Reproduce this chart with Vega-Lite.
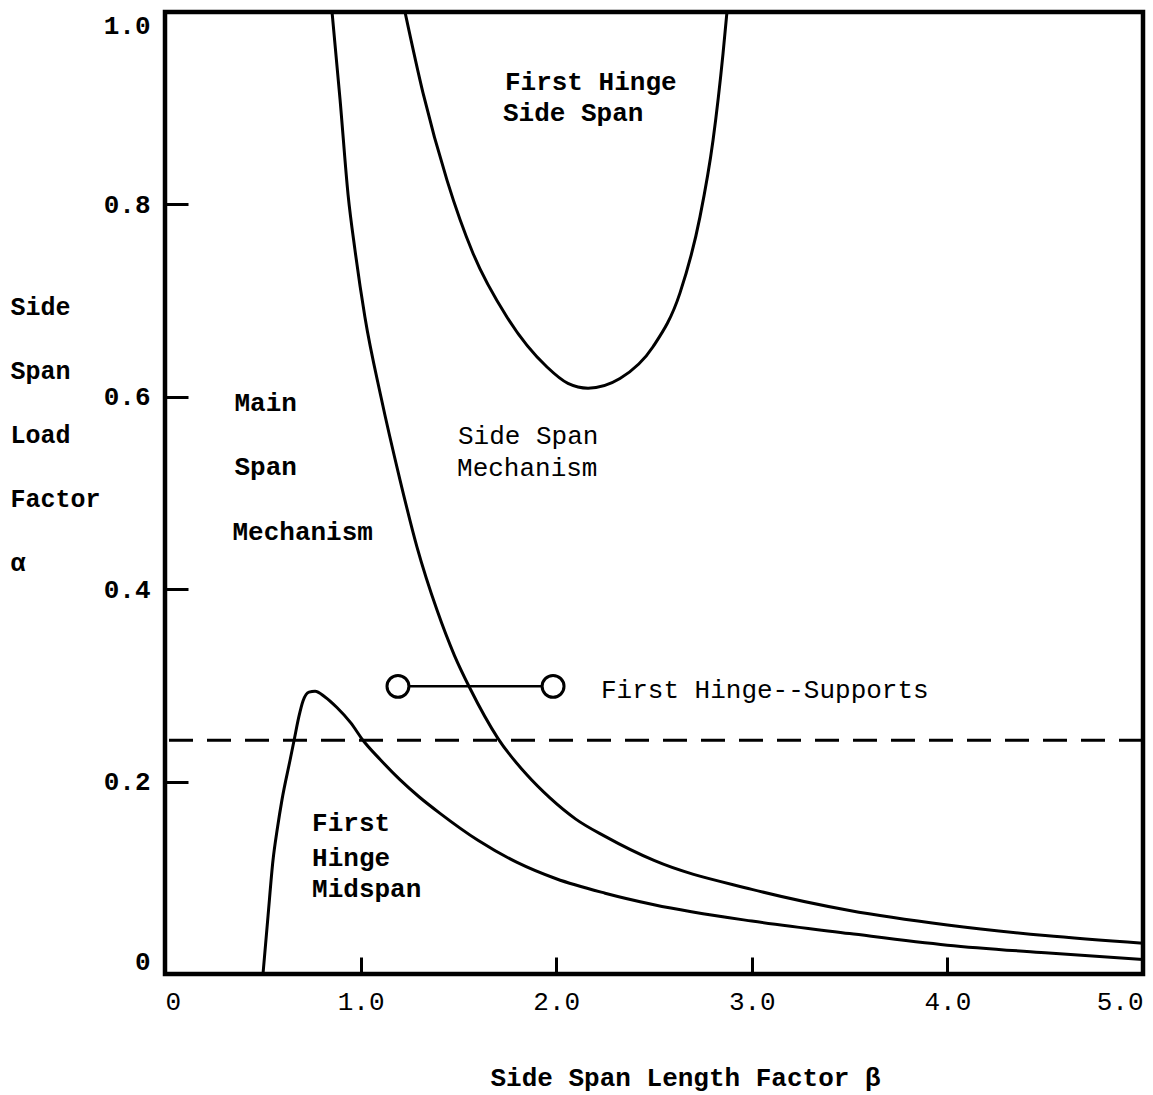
{
  "$schema": "https://vega.github.io/schema/vega-lite/v6.json",
  "width": 978,
  "height": 962,
  "autosize": {"type": "none"},
  "padding": {"left": 165, "top": 12, "right": 10, "bottom": 121},
  "background": "white",
  "config": {
    "view": {"stroke": "black", "strokeWidth": 4.5},
    "font": "Liberation Mono"
  },
  "layer": [
    {
      "data": {
        "values": [
          {"curve": "midspan", "beta": 0.501, "alpha": 0.0},
          {"curve": "midspan", "beta": 0.527, "alpha": 0.061},
          {"curve": "midspan", "beta": 0.552, "alpha": 0.118},
          {"curve": "midspan", "beta": 0.575, "alpha": 0.152},
          {"curve": "midspan", "beta": 0.598, "alpha": 0.181},
          {"curve": "midspan", "beta": 0.639, "alpha": 0.222},
          {"curve": "midspan", "beta": 0.660, "alpha": 0.243},
          {"curve": "midspan", "beta": 0.685, "alpha": 0.268},
          {"curve": "midspan", "beta": 0.706, "alpha": 0.284},
          {"curve": "midspan", "beta": 0.736, "alpha": 0.293},
          {"curve": "midspan", "beta": 0.767, "alpha": 0.294},
          {"curve": "midspan", "beta": 0.818, "alpha": 0.288},
          {"curve": "midspan", "beta": 0.879, "alpha": 0.277},
          {"curve": "midspan", "beta": 0.950, "alpha": 0.261},
          {"curve": "midspan", "beta": 1.012, "alpha": 0.243},
          {"curve": "midspan", "beta": 1.100, "alpha": 0.223},
          {"curve": "midspan", "beta": 1.201, "alpha": 0.202},
          {"curve": "midspan", "beta": 1.300, "alpha": 0.184},
          {"curve": "midspan", "beta": 1.406, "alpha": 0.167},
          {"curve": "midspan", "beta": 1.600, "alpha": 0.139},
          {"curve": "midspan", "beta": 1.800, "alpha": 0.116},
          {"curve": "midspan", "beta": 2.000, "alpha": 0.099},
          {"curve": "midspan", "beta": 2.250, "alpha": 0.084},
          {"curve": "midspan", "beta": 2.500, "alpha": 0.072},
          {"curve": "midspan", "beta": 3.000, "alpha": 0.055},
          {"curve": "midspan", "beta": 3.500, "alpha": 0.042},
          {"curve": "midspan", "beta": 4.000, "alpha": 0.030},
          {"curve": "midspan", "beta": 4.500, "alpha": 0.022},
          {"curve": "midspan", "beta": 5.000, "alpha": 0.015},
          {"curve": "mainside", "beta": 0.854, "alpha": 1.0},
          {"curve": "mainside", "beta": 0.895, "alpha": 0.909},
          {"curve": "mainside", "beta": 0.936, "alpha": 0.810},
          {"curve": "mainside", "beta": 0.971, "alpha": 0.753},
          {"curve": "mainside", "beta": 1.022, "alpha": 0.683},
          {"curve": "mainside", "beta": 1.104, "alpha": 0.600},
          {"curve": "mainside", "beta": 1.201, "alpha": 0.514},
          {"curve": "mainside", "beta": 1.288, "alpha": 0.444},
          {"curve": "mainside", "beta": 1.391, "alpha": 0.378},
          {"curve": "mainside", "beta": 1.480, "alpha": 0.331},
          {"curve": "mainside", "beta": 1.559, "alpha": 0.297},
          {"curve": "mainside", "beta": 1.702, "alpha": 0.245},
          {"curve": "mainside", "beta": 1.850, "alpha": 0.207},
          {"curve": "mainside", "beta": 1.968, "alpha": 0.183},
          {"curve": "mainside", "beta": 2.100, "alpha": 0.161},
          {"curve": "mainside", "beta": 2.250, "alpha": 0.143},
          {"curve": "mainside", "beta": 2.500, "alpha": 0.118},
          {"curve": "mainside", "beta": 3.000, "alpha": 0.088},
          {"curve": "mainside", "beta": 3.500, "alpha": 0.066},
          {"curve": "mainside", "beta": 4.000, "alpha": 0.051},
          {"curve": "mainside", "beta": 4.500, "alpha": 0.040},
          {"curve": "mainside", "beta": 5.000, "alpha": 0.032},
          {"curve": "sidehinge", "beta": 1.227, "alpha": 1.0},
          {"curve": "sidehinge", "beta": 1.319, "alpha": 0.916},
          {"curve": "sidehinge", "beta": 1.442, "alpha": 0.825},
          {"curve": "sidehinge", "beta": 1.575, "alpha": 0.749},
          {"curve": "sidehinge", "beta": 1.748, "alpha": 0.683},
          {"curve": "sidehinge", "beta": 1.953, "alpha": 0.631},
          {"curve": "sidehinge", "beta": 2.060, "alpha": 0.614},
          {"curve": "sidehinge", "beta": 2.163, "alpha": 0.609},
          {"curve": "sidehinge", "beta": 2.326, "alpha": 0.619},
          {"curve": "sidehinge", "beta": 2.495, "alpha": 0.652},
          {"curve": "sidehinge", "beta": 2.633, "alpha": 0.708},
          {"curve": "sidehinge", "beta": 2.735, "alpha": 0.787},
          {"curve": "sidehinge", "beta": 2.802, "alpha": 0.867},
          {"curve": "sidehinge", "beta": 2.853, "alpha": 0.957},
          {"curve": "sidehinge", "beta": 2.873, "alpha": 1.0}
        ]
      },
      "mark": {"type": "line", "color": "black", "strokeWidth": 3, "clip": true, "interpolate": "monotone"},
      "encoding": {
        "x": {
          "field": "beta",
          "type": "quantitative",
          "scale": {"domain": [0, 5], "nice": false, "zero": false},
          "axis": {
            "title": "Side Span Length Factor β",
            "values": [0, 1, 2, 3, 4, 5],
            "labelExpr": "datum.value == 0 ? '0' : format(datum.value, '.1f')",
            "domain": false,
            "grid": false,
            "ticks": true,
            "tickSize": -17,
            "tickWidth": 3,
            "tickColor": "black",
            "labelFlush": true,
            "labelFont": "Liberation Mono",
            "labelFontSize": 26,
            "labelFontWeight": "normal",
            "labelColor": "black",
            "labelPadding": 31,
            "titleFont": "Liberation Mono",
            "titleFontSize": 26,
            "titleFontWeight": "bold",
            "titleColor": "black",
            "titleAnchor": "start",
            "titleAlign": "left",
            "titleBaseline": "middle",
            "titleX": 325,
            "titleY": 103
          }
        },
        "y": {
          "field": "alpha",
          "type": "quantitative",
          "scale": {"domain": [0, 1], "nice": false, "zero": false},
          "axis": {
            "title": ["Side", "Span", "Load", "Factor", "α"],
            "values": [0, 0.2, 0.4, 0.6, 0.8, 1.0],
            "labelExpr": "datum.value == 0 ? '0' : format(datum.value, '.1f')",
            "domain": false,
            "grid": false,
            "ticks": true,
            "tickSize": -23,
            "tickWidth": 3,
            "tickColor": "black",
            "labelFlush": true,
            "labelFont": "Liberation Mono",
            "labelFontSize": 26,
            "labelFontWeight": "bold",
            "labelColor": "black",
            "labelPadding": 38,
            "titleFont": "Liberation Mono",
            "titleFontSize": 25,
            "titleFontWeight": "bold",
            "titleColor": "black",
            "titleAngle": 0,
            "titleAlign": "left",
            "titleBaseline": "top",
            "titleX": -155,
            "titleY": 282,
            "titleLineHeight": 64
          }
        },
        "detail": {"field": "curve", "type": "nominal"}
      }
    },
    {
      "data": {"values": [{"alpha": 0.243}]},
      "mark": {"type": "rule", "color": "black", "strokeWidth": 3, "strokeDash": [24, 14]},
      "encoding": {"y": {"field": "alpha", "type": "quantitative"}}
    },
    {
      "data": {"values": [{"beta": 1.191, "alpha": 0.299}, {"beta": 1.984, "alpha": 0.299}]},
      "mark": {"type": "line", "color": "black", "strokeWidth": 2.5},
      "encoding": {
        "x": {"field": "beta", "type": "quantitative"},
        "y": {"field": "alpha", "type": "quantitative"}
      }
    },
    {
      "data": {"values": [{"beta": 1.191, "alpha": 0.299}, {"beta": 1.984, "alpha": 0.299}]},
      "mark": {"type": "point", "shape": "circle", "size": 480, "filled": true, "fill": "white", "stroke": "black", "strokeWidth": 3, "opacity": 1},
      "encoding": {
        "x": {"field": "beta", "type": "quantitative"},
        "y": {"field": "alpha", "type": "quantitative"}
      }
    },
    {
      "data": {
        "values": [
          {"label": "Main", "beta": 0.355, "alpha": 0.594},
          {"label": "Span", "beta": 0.355, "alpha": 0.527},
          {"label": "Mechanism", "beta": 0.345, "alpha": 0.459},
          {"label": "First", "beta": 0.752, "alpha": 0.157},
          {"label": "Hinge", "beta": 0.752, "alpha": 0.121},
          {"label": "Midspan", "beta": 0.752, "alpha": 0.088},
          {"label": "First Hinge", "beta": 1.738, "alpha": 0.927},
          {"label": "Side Span", "beta": 1.728, "alpha": 0.895}
        ]
      },
      "mark": {"type": "text", "align": "left", "baseline": "middle", "font": "Liberation Mono", "fontSize": 26, "fontWeight": "bold", "color": "black"},
      "encoding": {
        "x": {"field": "beta", "type": "quantitative"},
        "y": {"field": "alpha", "type": "quantitative"},
        "text": {"field": "label", "type": "nominal"}
      }
    },
    {
      "data": {
        "values": [
          {"label": "Side Span", "beta": 1.498, "alpha": 0.559},
          {"label": "Mechanism", "beta": 1.493, "alpha": 0.526},
          {"label": "First Hinge--Supports", "beta": 2.229, "alpha": 0.295}
        ]
      },
      "mark": {"type": "text", "align": "left", "baseline": "middle", "font": "Liberation Mono", "fontSize": 26, "fontWeight": "normal", "color": "black"},
      "encoding": {
        "x": {"field": "beta", "type": "quantitative"},
        "y": {"field": "alpha", "type": "quantitative"},
        "text": {"field": "label", "type": "nominal"}
      }
    }
  ]
}
